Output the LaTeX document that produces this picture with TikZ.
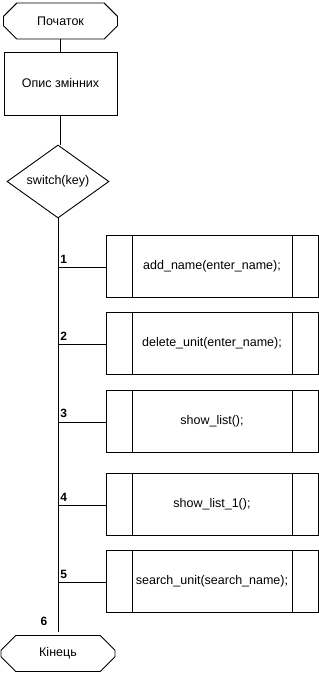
\documentclass[tikz,border=0pt]{standalone}
\usepackage{fontspec}
\setmainfont{Liberation Sans}
\usetikzlibrary{shapes.misc,shapes.geometric}
\begin{document}
\begin{tikzpicture}[x=1pt,y=-1pt,line width=0.9pt,
  every node/.style={font=\fontsize{12.5}{14}\selectfont, inner sep=0pt},
  term/.style={draw, chamfered rectangle, chamfered rectangle xsep=8pt, chamfered rectangle ysep=9pt, minimum width=114pt, minimum height=36pt},
  procbox/.style={draw, rectangle, minimum width=113pt, minimum height=63pt},
  decide/.style={draw, diamond, minimum width=102pt, minimum height=73pt, aspect=1.4},
  predef/.style={draw, rectangle, minimum width=212pt, minimum height=62pt},
  numlab/.style={font=\fontsize{12}{13}\selectfont\bfseries}]
\useasboundingbox (0,0) rectangle (319,673);
\node[term] (start) at (60.5,21) {Початок};
\node[procbox] (vars) at (60.5,83.5) {Опис змінних};
\node[decide] (sw) at (58,181.5) {switch(key)};
\node[term] (end) at (58,653.5) {Кінець};
\coordinate (bot) at (58,632);
\draw (start.south) -- (vars.north);
\draw (vars.south) -- (vars.south |- sw.north);
\draw (sw.south) -- (bot);

\foreach \i/\y/\t in {1/266/{add\_name(enter\_name);},
                      2/343/{delete\_unit(enter\_name);},
                      3/421/{show\_list();},
                      4/504/{show\_list\_1();},
                      5/581.5/{search\_unit(search\_name);}}{
  \node[predef] (b\i) at (212,\y) {\t};
  \draw ([xshift=27pt]b\i.north west) -- ([xshift=27pt]b\i.south west);
  \draw ([xshift=-26pt]b\i.north east) -- ([xshift=-26pt]b\i.south east);
  \coordinate (j\i) at (58,\y+1);
  \draw (j\i) -- (j\i -| b\i.west);
  \node[numlab, anchor=south west] (n\i) at ([xshift=2pt,yshift=3.5pt]j\i) {\i};
}
\node[numlab] (n6) at (44,621) {6};
\end{tikzpicture}
\end{document}
